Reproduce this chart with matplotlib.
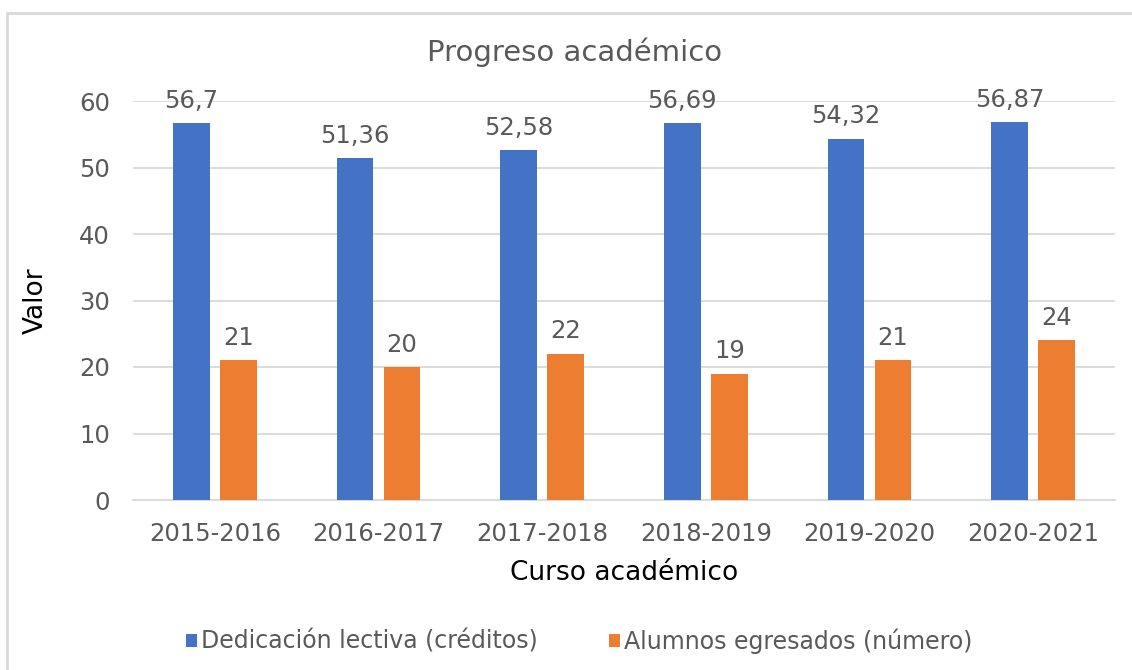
import numpy as np
import matplotlib.pyplot as plt
from matplotlib.patches import Rectangle

cursos = ["2015-2016", "2016-2017", "2017-2018", "2018-2019", "2019-2020", "2020-2021"]
dedicacion = [56.7, 51.36, 52.58, 56.69, 54.32, 56.87]
egresados = [21, 20, 22, 19, 21, 24]
dedicacion_labels = ["56,7", "51,36", "52,58", "56,69", "54,32", "56,87"]
egresados_labels = ["21", "20", "22", "19", "21", "24"]

BLUE = "#4472C4"
ORANGE = "#ED7D31"
TEXT = "#595959"
GRID = "#D9D9D9"

plt.rcParams['font.family'] = ['DejaVu Sans']

W, H = 1132, 670
fig = plt.figure(figsize=(W / 100, H / 100), dpi=100)

# outer chart border (light gray), only top and left edges visible in crop
fig.add_artist(Rectangle((6.5 / W, -0.05), 1.2, 1 - 12.5 / H + 0.05,
                         transform=fig.transFigure, fill=False,
                         edgecolor="#D9D9D9", linewidth=2))

ax = fig.add_axes([133 / W, 1 - 500 / H, (1115 - 133) / W, (500 - 101) / H])

x = np.arange(len(cursos))
width = 0.226
offset = 0.1436
b1 = ax.bar(x - offset, dedicacion, width, color=BLUE, label="Dedicación lectiva (créditos)", zorder=3)
b2 = ax.bar(x + offset, egresados, width, color=ORANGE, label="Alumnos egresados (número)", zorder=3)

for bars, labels in [(b1, dedicacion_labels), (b2, egresados_labels)]:
    for rect, lab in zip(bars, labels):
        ax.annotate(lab, (rect.get_x() + rect.get_width() / 2, rect.get_height()),
                    xytext=(0, 11), textcoords="offset points", ha="center", va="baseline",
                    fontsize=17.5, color=TEXT, annotation_clip=False)

ax.set_xlim(-0.5, len(cursos) - 0.5)
ax.set_ylim(0, 60)
ax.set_yticks(range(0, 61, 10))
ax.set_xticks(x)
ax.set_xticklabels(cursos)
ax.tick_params(axis="both", length=0, labelsize=17.5, labelcolor=TEXT)
ax.tick_params(axis="x", pad=16)
ax.tick_params(axis="y", pad=16.5)

ax.grid(axis="y", color=GRID, linewidth=1.3, zorder=0)
for s in ["top", "right", "left"]:
    ax.spines[s].set_visible(False)
ax.spines["bottom"].set_color(GRID)
ax.spines["bottom"].set_linewidth(1.3)

ax.set_xlabel("Curso académico", fontsize=19, color="#000000", labelpad=10)
ax.set_ylabel("Valor", fontsize=19, color="#000000", labelpad=22)

fig.text(575 / W, 1 - 52 / H, "Progreso académico", ha="center", va="center",
         fontsize=21, color=TEXT)

leg = fig.legend(handles=[b1, b2], loc="center", bbox_to_anchor=(579 / W, 1 - 641 / H),
                 ncol=2, frameon=False, fontsize=17, handlelength=0.5, handleheight=0.5,
                 handletextpad=0.15, columnspacing=3.0)
for t in leg.get_texts():
    t.set_color(TEXT)

fig.savefig("out.png", dpi=100)
